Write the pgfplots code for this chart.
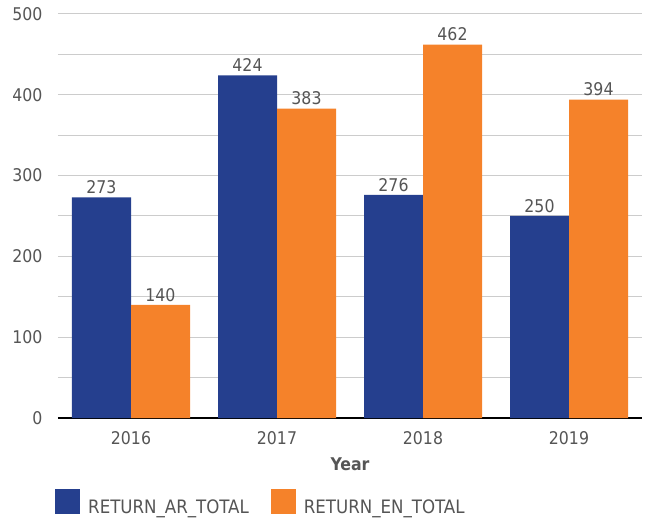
\documentclass[border=0pt]{standalone}
\usepackage{pgfplots}
\pgfplotsset{compat=1.18}
\usepackage{fontspec}
\setmainfont{DejaVu Sans Condensed}
\definecolor{arblue}{HTML}{253F8E}
\definecolor{enorange}{HTML}{F5822A}
\definecolor{txtgray}{HTML}{555555}
\begin{document}
\begin{tikzpicture}
\begin{axis}[
  scale only axis,
  width=584pt, height=404pt,
  xmin=-0.5, xmax=3.5,
  ymin=0, ymax=500,
  ybar=0pt,
  bar width=59pt,
  xtick={0,1,2,3},
  xticklabels={2016,2017,2018,2019},
  ytick={0,100,...,500},
  minor ytick={50,150,...,450},
  ymajorgrids, yminorgrids,
  major grid style={draw=gray!40, line width=1pt},
  minor grid style={draw=gray!40, line width=1pt},
  axis x line*=bottom,
  axis y line*=left,
  y axis line style={draw=none},
  x axis line style={line width=1.2pt, -},
  major tick length=0pt, minor tick length=0pt,
  tick label style={font=\fontsize{17.5}{20}\selectfont, text=txtgray},
  /pgf/number format/assume math mode=true,
  yticklabel style={xshift=-12pt},
  xticklabel style={yshift=-10pt},
  xlabel={\textbf{Year}},
  xlabel style={font=\fontsize{17.5}{20}\selectfont, text=txtgray, yshift=-6pt},
  nodes near coords,
  every node near coord/.append style={font=\fontsize{17.5}{20}\selectfont, text=txtgray},
  legend columns=-1,
  legend style={at={(axis description cs:0,0)}, anchor=north west, xshift=-6pt, yshift=-69pt,
    draw=none, font=\fontsize{18.5}{21}\selectfont, text=txtgray,
    /tikz/every odd column/.append style={column sep=6pt},
    /tikz/every even column/.append style={column sep=20pt}},
  legend image code/.code={\fill[#1] (0pt,-7pt) rectangle (25pt,18pt);},
]
\addplot[fill=arblue, draw=none] coordinates {(0,273) (1,424) (2,276) (3,250)};
\addplot[fill=enorange, draw=none] coordinates {(0,140) (1,383) (2,462) (3,394)};
\legend{RETURN\_AR\_TOTAL, RETURN\_EN\_TOTAL}
\end{axis}
\pgfresetboundingbox
\path[use as bounding box] ([xshift=-58pt,yshift=-100pt]current axis.south west) rectangle ([xshift=12pt,yshift=14pt]current axis.north east);
\end{tikzpicture}
\end{document}
